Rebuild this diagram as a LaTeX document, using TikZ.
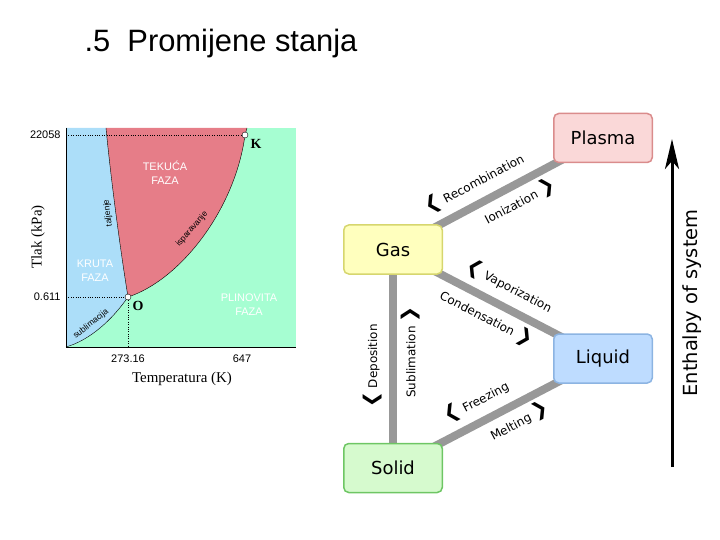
\documentclass[tikz,border=0pt]{standalone}
\usepackage{fontspec}
\setmainfont{Liberation Sans}
\newfontfamily\seriffont{Liberation Serif}
\newfontfamily\statefont{DejaVu Sans}
\usetikzlibrary{arrows.meta,backgrounds}

% phase diagram colours
\definecolor{solidblue}{RGB}{172,222,249}
\definecolor{liquidred}{RGB}{230,125,136}
\definecolor{gasgreen}{RGB}{166,254,210}
% state boxes
\definecolor{plasmafill}{RGB}{250,216,216}
\definecolor{plasmaline}{RGB}{218,140,140}
\definecolor{gasfill}{RGB}{255,255,190}
\definecolor{gasline}{RGB}{214,214,110}
\definecolor{liquidfill}{RGB}{190,220,255}
\definecolor{liquidline}{RGB}{140,180,226}
\definecolor{solidfill}{RGB}{214,250,206}
\definecolor{solidline}{RGB}{110,198,100}
\definecolor{linkgray}{RGB}{152,152,152}

% heavy chevrons for the transition labels
\newcommand{\lchev}{{\fontsize{19}{19}\selectfont ❮}}
\newcommand{\rchev}{{\fontsize{19}{19}\selectfont ❯}}

\tikzset{
  phaselabel/.style={text=white, align=center, font=\fontsize{11}{14}\selectfont},
  curvelabel/.style={font=\fontsize{8.5}{8.5}\selectfont, inner sep=0.5bp},
  ticklabel/.style={font=\fontsize{11}{11}\selectfont},
  axislabel/.style={font=\seriffont\fontsize{15}{15}\selectfont},
  pointlabel/.style={font=\seriffont\bfseries\fontsize{14}{14}\selectfont},
  triple/.style={circle, draw, fill=white, inner sep=0pt, minimum size=6bp},
  statebox/.style={draw, rounded corners=5bp, line width=1.5bp, minimum width=98.5bp,
    minimum height=49bp, font=\statefont\fontsize{18}{18}\selectfont},
  link/.style={draw=linkgray, line width=8bp},
  translabel/.style={font=\statefont\fontsize{12}{12}\selectfont, sloped,
    text height=9bp, text depth=2.5bp}
}

\begin{document}
\begin{tikzpicture}[x=1bp, y=-1bp]
    \useasboundingbox (0,0) rectangle (720,540);

    % Title
    \node[anchor=base west, font=\fontsize{31}{31}\selectfont] (title) at (81,52) {.5~~Promijene stanja};

    % Phase diagram: the three regions
    \fill[gasgreen] (66,128) rectangle (296,347);
    \fill[solidblue] (66,128) -- (106,128) .. controls (112,190) and (122,260) .. (128,297)
        .. controls (112,320) and (90,340) .. (66,347) -- cycle;
    \fill[liquidred] (106,128) .. controls (112,190) and (122,260) .. (128,297)
        .. controls (180,280) and (235,210) .. (245,135) -- (247,128) -- cycle;

    % Phase boundaries and axes
    \draw[thin] (106,128) .. controls (112,190) and (122,260) .. (128,297);
    \draw[thin] (128,297) .. controls (112,320) and (90,340) .. (66,347);
    \draw[thin] (128,297) .. controls (180,280) and (235,210) .. (245,135) -- (247,128);
    \draw[thin] (66,128) -- (66,347) -- (296,347);

    % Triple point and critical point
    \node[triple] (K) at (245,135) {};
    \node[triple] (O) at (128,297) {};
    \draw[dotted] (66,135) -- (K);
    \draw[dotted] (66,297) -- (O);
    \draw[dotted] (O) -- (128,347);
    \node[pointlabel] (klabel) at (256,144) {K};
    \node[pointlabel] (olabel) at (138,306) {O};

    % Region and curve labels
    \node[phaselabel] (liquidtext) at (165,173) {TEKUĆA\\FAZA};
    \node[phaselabel] (solidtext) at (95,271) {KRUTA\\FAZA};
    \node[phaselabel] (gastext) at (249,305) {PLINOVITA\\FAZA};
    \node[curvelabel, rotate=97] (melttext) at (108,213) {taljenje};
    \node[curvelabel, rotate=49] (vaptext) at (192,229) {isparavanje};
    \node[curvelabel, rotate=38] (subtext) at (91,324) {sublimacija};

    % Ticks and axis titles
    \node[ticklabel, anchor=east] (pmax) at (64,135) {22058};
    \node[ticklabel, anchor=east] (pmin) at (64,297) {0.611};
    \node[ticklabel] (tmin) at (128,359) {273.16};
    \node[ticklabel] (tmax) at (242,359) {647};
    \node[axislabel] (xtitle) at (182,379) {Temperatura (K)};
    \node[axislabel, rotate=90] (ytitle) at (38,237) {Tlak (kPa)};

    % States of matter
    \node[statebox, fill=plasmafill, draw=plasmaline] (plasma) at (603,138) {Plasma};
    \node[statebox, fill=gasfill, draw=gasline] (gas) at (393,249.5) {Gas};
    \node[statebox, fill=liquidfill, draw=liquidline] (liquid) at (603,358.5) {Liquid};
    \node[statebox, fill=solidfill, draw=solidline] (solid) at (393,468) {Solid};

    % Transitions behind the boxes
    \begin{scope}[on background layer]
        \draw[link] (gas.center) -- (plasma.center)
            node[translabel, pos=0.435, above=6bp] {\lchev\ Recombination}
            node[translabel, pos=0.564, below=6bp] {Ionization \rchev};
        \draw[link] (gas.center) -- (liquid.center)
            node[translabel, pos=0.51, above=6bp] {\lchev\ Vaporization}
            node[translabel, pos=0.483, below=6bp] {Condensation \rchev};
        \draw[link] (solid.center) -- (liquid.center)
            node[translabel, pos=0.444, above=6bp] {\lchev\ Freezing}
            node[translabel, pos=0.563, below=6bp] {Melting \rchev};
        \draw[link] (solid.center) -- (gas.center)
            node[translabel, pos=0.467, above=6bp] {\lchev\ Deposition}
            node[translabel, pos=0.53, below=6bp] {Sublimation \rchev};
    \end{scope}

    % Enthalpy axis
    \coordinate (hlow) at (672,467);
    \coordinate (hhigh) at (672,139);
    \draw[line width=3bp, -{Stealth[length=30bp, width=14bp, inset=8bp]}] (hlow) -- (hhigh)
        node[midway, sloped, below=6bp, font=\statefont\fontsize{19.5}{19.5}\selectfont] {Enthalpy of system};

\end{tikzpicture}
\end{document}
